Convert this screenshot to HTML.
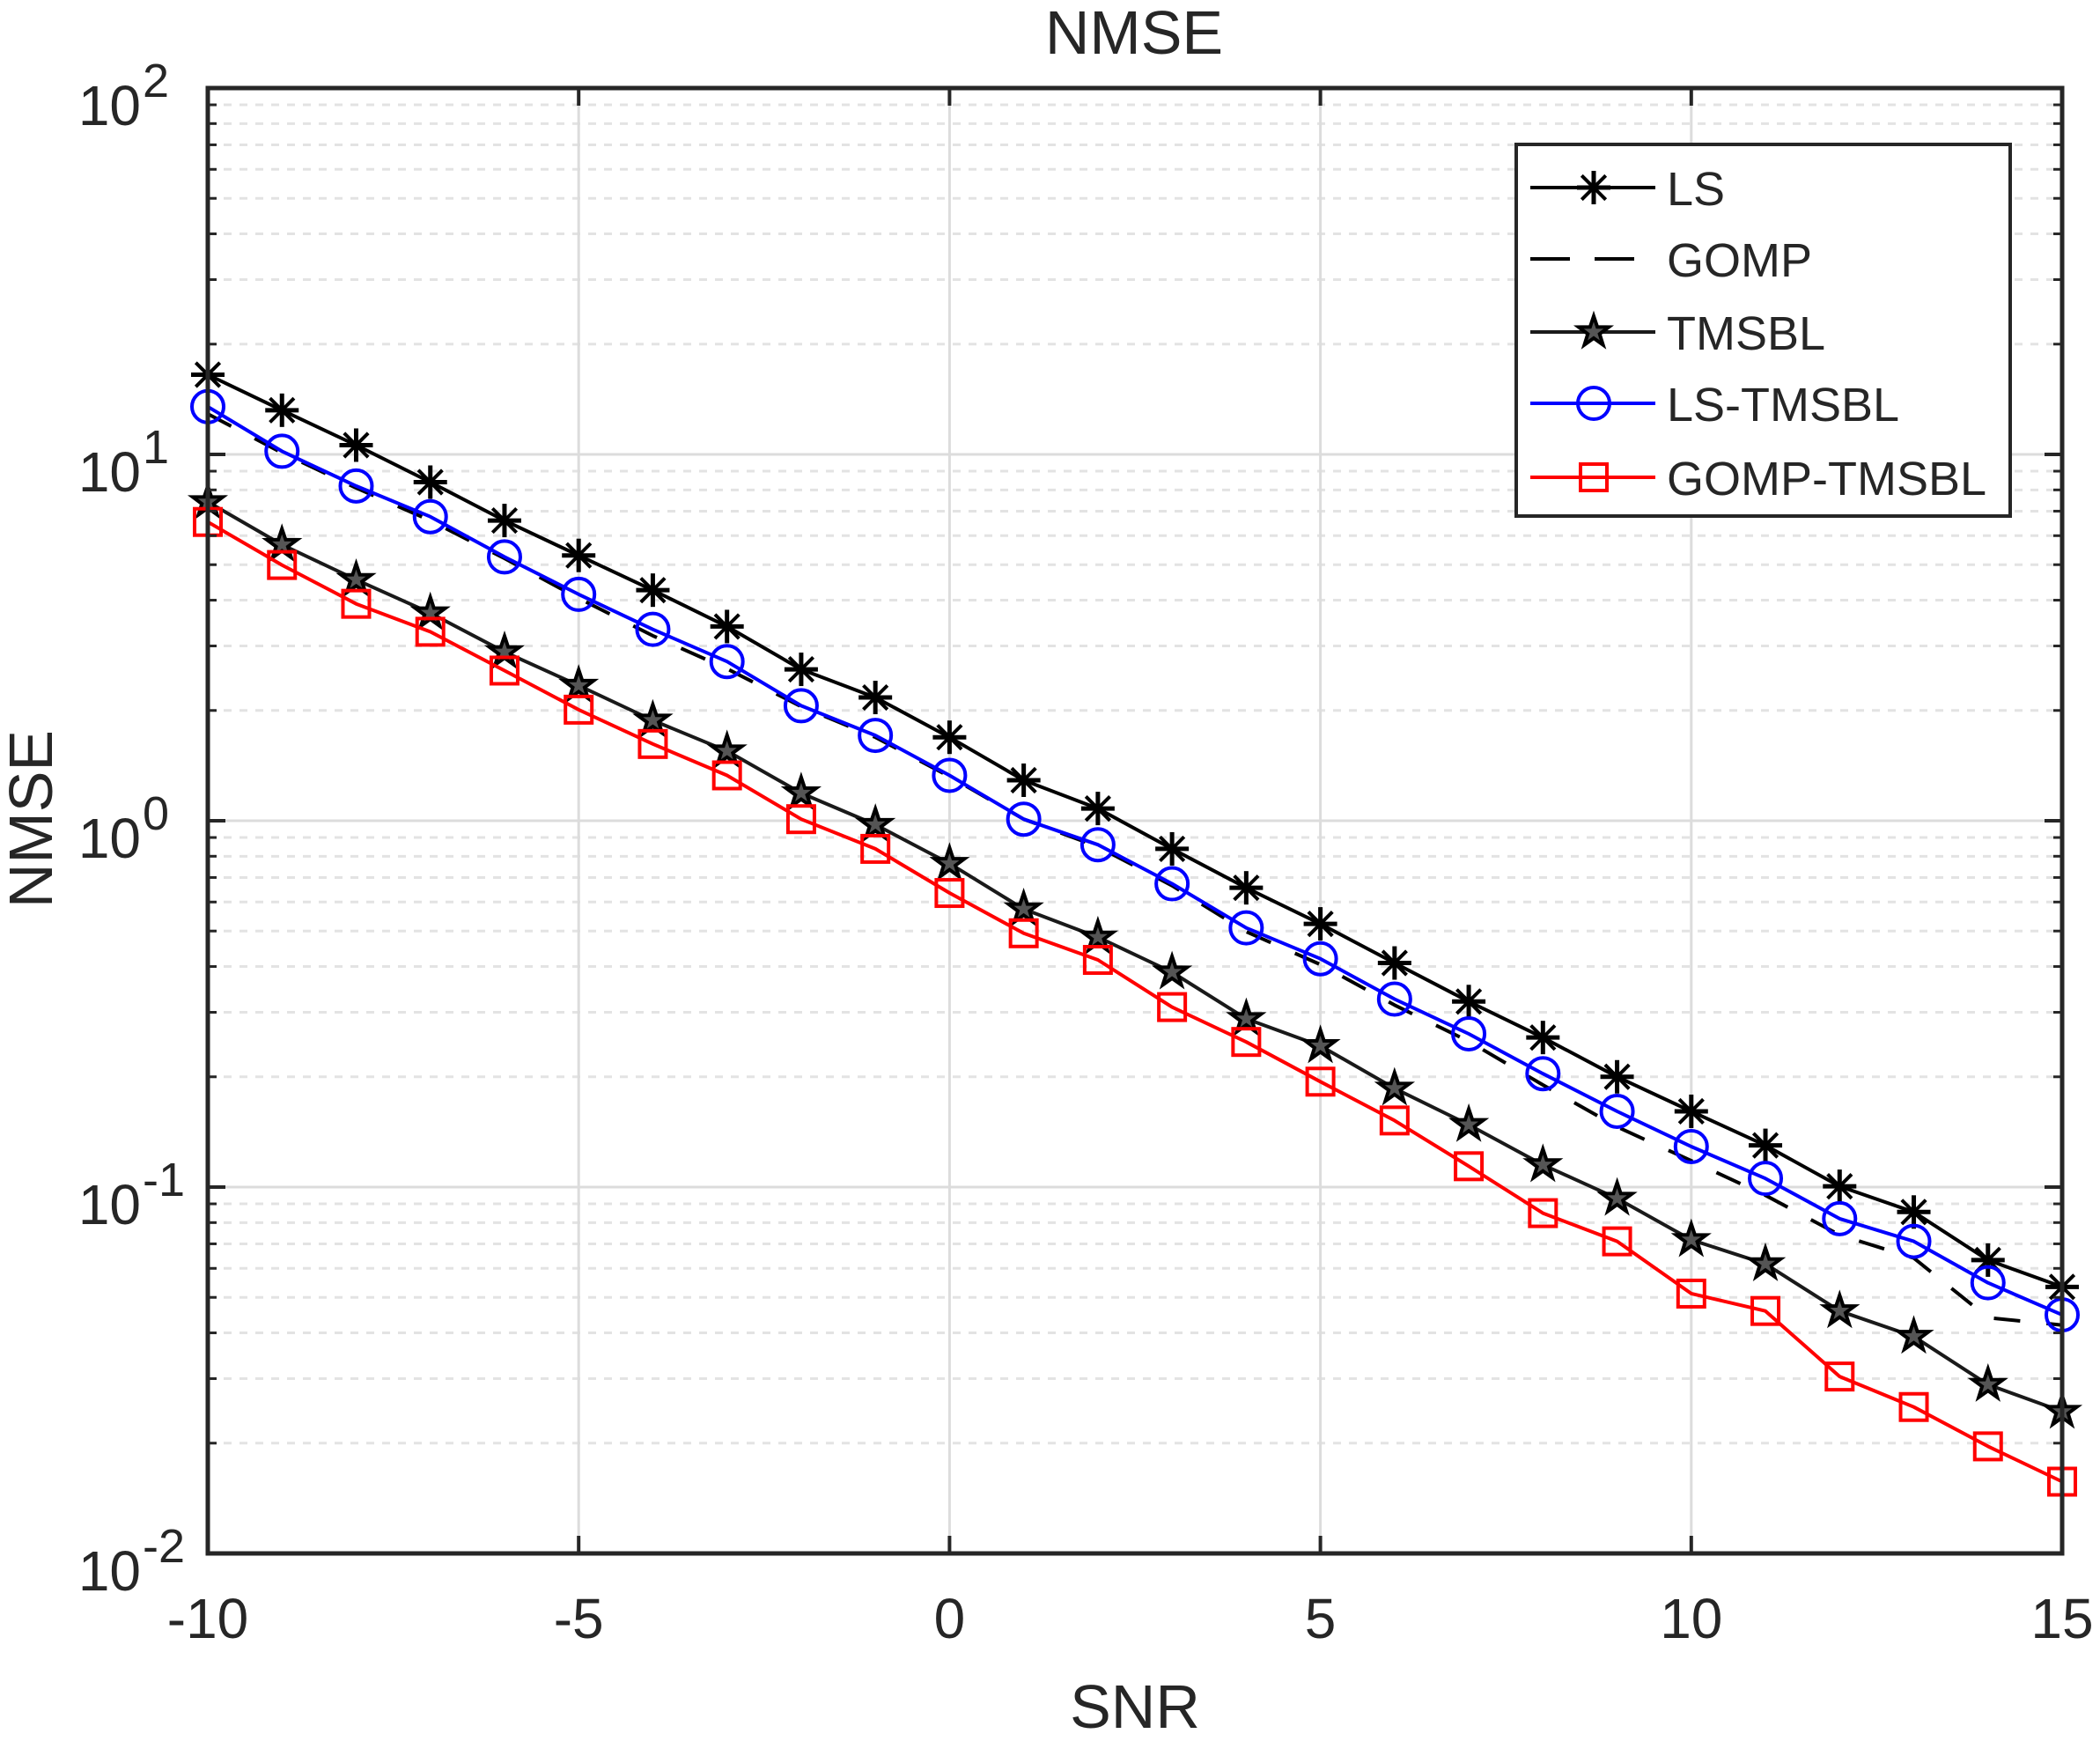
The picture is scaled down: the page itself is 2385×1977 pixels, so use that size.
<!DOCTYPE html>
<html><head><meta charset="utf-8"><style>
html,body{margin:0;padding:0;background:#fff;}
svg{display:block;}
text{font-family:"Liberation Sans",Arial,sans-serif;fill:#262626;}
</style></head><body>
<svg id="chart" width="2385" height="1977" viewBox="0 0 2385 1977" xmlns="http://www.w3.org/2000/svg">
<rect x="0" y="0" width="2385" height="1977" fill="#fff"/>
<g id="grid"></g>
<g id="series"></g>
<rect x="236" y="100" width="2106" height="1664" fill="none" stroke="#262626" stroke-width="5"/>
<g id="ticks"></g>
<text x="1288" y="61" font-size="70" text-anchor="middle">NMSE</text>
<text x="1289" y="1962" font-size="70" text-anchor="middle">SNR</text>
<text x="0" y="0" font-size="70" text-anchor="middle" transform="translate(59,930) rotate(-90)">NMSE</text>
<g id="legend"></g>
</svg>
<script>
const snr = [-10,-9,-8,-7,-6,-5,-4,-3,-2,-1,0,1,2,3,4,5,6,7,8,9,10,11,12,13,14,15];
const lsValues = [16.5,13.2,10.6,8.4,6.6,5.3,4.26,3.39,2.59,2.17,1.69,1.29,1.08,0.838,0.656,0.523,0.409,0.321,0.256,0.200,0.161,0.130,0.1005,0.0855,0.0632,0.0534];
const gompValues = [12.9,10.1,8.1,6.6,5.2,4.05,3.2,2.6,2.05,1.69,1.32,1.01,0.85,0.665,0.498,0.405,0.314,0.250,0.190,0.146,0.118,0.095,0.074,0.064,0.044,0.042];
const tmsblValues = [7.42,5.67,4.55,3.69,2.89,2.34,1.88,1.55,1.19,0.976,0.764,0.574,0.481,0.386,0.288,0.243,0.186,0.148,0.115,0.0931,0.0718,0.0617,0.0459,0.0391,0.0289,0.0244];
const lsTmsblValues = [13.5,10.2,8.2,6.76,5.25,4.15,3.33,2.72,2.06,1.71,1.33,1.01,0.86,0.673,0.510,0.420,0.326,0.262,0.204,0.161,0.129,0.1056,0.082,0.0711,0.0548,0.0448];
const gompTmsblValues = [6.54,4.99,3.91,3.28,2.57,2.01,1.62,1.33,1.01,0.838,0.635,0.493,0.417,0.310,0.249,0.194,0.152,0.114,0.0849,0.0711,0.0512,0.0459,0.0304,0.0251,0.0196,0.0157];
const xTicks = [-10,-5,0,5,10,15];
const yExponents = [2,1,0,-1,-2];
const legendLabels = ["LS","GOMP","TMSBL","LS-TMSBL","GOMP-TMSBL"];

const NS="http://www.w3.org/2000/svg";
const L=236,R=2342,T=100,B=1764;
const xMin=-10,xMax=15,yMinE=-2,yMaxE=2;
function xs(v){return L+(v-xMin)/(xMax-xMin)*(R-L);}
function ys(v){return B-(Math.log10(v)-yMinE)/(yMaxE-yMinE)*(B-T);}
function mk(tag,attrs,parent){const e=document.createElementNS(NS,tag);for(const k in attrs)e.setAttribute(k,attrs[k]);parent.appendChild(e);return e;}

const grid=document.getElementById('grid');
for(let e=yMinE;e<yMaxE;e++){for(let m=2;m<=9;m++){const y=ys(m*Math.pow(10,e));
 const g=mk('line',{x1:L,x2:R,y1:y,y2:y,stroke:'#e3e3e3','stroke-width':3,'stroke-dasharray':'9,9'},grid);
 
 
 const t1=mk('line',{x1:L,x2:L+10,y1:y,y2:y,stroke:'#262626','stroke-width':3},document.getElementById('ticks'));
 
 
 const t2=mk('line',{x1:R-10,x2:R,y1:y,y2:y,stroke:'#262626','stroke-width':3},document.getElementById('ticks'));
 
 
}}
yExponents.forEach(e=>{const y=ys(Math.pow(10,e));
 const g=mk('line',{x1:L,x2:R,y1:y,y2:y,stroke:'#dcdcdc','stroke-width':3},grid);
 
 
 const tk=document.getElementById('ticks');
 const t1=mk('line',{x1:L,x2:L+20,y1:y,y2:y,stroke:'#262626','stroke-width':4},tk);
 
 
 const t2=mk('line',{x1:R-20,x2:R,y1:y,y2:y,stroke:'#262626','stroke-width':4},tk);
 
 
 const txt=mk('text',{x:160,y:y+42,'font-size':64,'text-anchor':'end'},tk);
 txt.textContent='10';
 
 
 const sup=mk('text',{x:162,y:y+10,'font-size':54,'text-anchor':'start'},tk);
 sup.textContent=String(e);
 
 
});
xTicks.forEach(v=>{const x=xs(v);
 const g=mk('line',{x1:x,x2:x,y1:T,y2:B,stroke:'#dcdcdc','stroke-width':3},grid);
 
 
 const tk=document.getElementById('ticks');
 const t1=mk('line',{x1:x,x2:x,y1:B-20,y2:B,stroke:'#262626','stroke-width':4},tk);
 
 
 const t2=mk('line',{x1:x,x2:x,y1:T,y2:T+20,stroke:'#262626','stroke-width':4},tk);
 
 
 const txt=mk('text',{x:x,y:1860,'font-size':64,'text-anchor':'middle'},tk);
 txt.textContent=String(v);
 
 
});

function marker(type,cx,cy,color,parent){
 const g=mk('g',{},parent);
 if(type==='asterisk'){
  const s=19;
  mk('line',{x1:cx-s,x2:cx+s,y1:cy,y2:cy,stroke:color,'stroke-width':5},g);
  mk('line',{x1:cx,x2:cx,y1:cy-s,y2:cy+s,stroke:color,'stroke-width':5},g);
  const d=s*0.72;
  mk('line',{x1:cx-d,x2:cx+d,y1:cy-d,y2:cy+d,stroke:color,'stroke-width':4},g);
  mk('line',{x1:cx-d,x2:cx+d,y1:cy+d,y2:cy-d,stroke:color,'stroke-width':4},g);
 } else if(type==='circle'){
  mk('circle',{cx:cx,cy:cy,r:18,fill:'none',stroke:color,'stroke-width':4},g);
 } else if(type==='square'){
  mk('rect',{x:cx-15,y:cy-15,width:30,height:30,fill:'none',stroke:color,'stroke-width':4},g);
 } else if(type==='star'){
  const pts=[];for(let i=0;i<10;i++){const a=-Math.PI/2+i*Math.PI/5;const r=i%2?7:18;pts.push((cx+r*Math.cos(a)).toFixed(1)+','+(cy+r*Math.sin(a)).toFixed(1));}
  mk('polygon',{points:pts.join(' '),fill:'#555',stroke:color,'stroke-width':4,'stroke-linejoin':'miter'},g);
 }
 return g;
}

const seriesDefs=[
 {vals:lsValues,color:'#000',dash:null,marker:'asterisk',name:'ls'},
 {vals:gompValues,color:'#000',dash:'30,30',marker:null,name:'gomp'},
 {vals:tmsblValues,color:'#1a1a1a',dash:null,marker:'star',name:'tmsbl'},
 {vals:lsTmsblValues,color:'#0000ff',dash:null,marker:'circle',name:'ls-tmsbl'},
 {vals:gompTmsblValues,color:'#ff0000',dash:null,marker:'square',name:'gomp-tmsbl'}
];
const sl=document.getElementById('series');
seriesDefs.forEach(s=>{
 const g=mk('g',{},sl);
 
 
 const pts=snr.map((x,i)=>xs(x).toFixed(1)+','+ys(s.vals[i]).toFixed(1)).join(' ');
 const pl=mk('polyline',{points:pts,fill:'none',stroke:s.color,'stroke-width':4,'stroke-linejoin':'round'},g);
 if(s.dash)pl.setAttribute('stroke-dasharray',s.dash);
 
 
 if(s.marker){snr.forEach((x,i)=>{
  const m=marker(s.marker,xs(x),ys(s.vals[i]),s.color==='#1a1a1a'?'#000':s.color,g);
  
  
 });}
});

const lg=document.getElementById('legend');
const box=mk('rect',{x:1722,y:164,width:561,height:422,fill:'#fff',stroke:'#262626','stroke-width':4},lg);


const rowY=[213,294,377,458,542];
seriesDefs.forEach((s,i)=>{
 const g=mk('g',{},lg);
 
 
 const y=rowY[i];
 const ln=mk('line',{x1:1738,x2:1880,y1:y,y2:y,stroke:s.color,'stroke-width':4},g);
 if(s.dash){ln.setAttribute('x2','1864');ln.setAttribute('stroke-dasharray','45,28');}
 if(s.marker)marker(s.marker,1810,y,s.color==='#1a1a1a'?'#000':s.color,g);
 const t=mk('text',{x:1893,y:y+20,'font-size':54,fill:'#000'},g);
 t.textContent=legendLabels[i];
 
 
});
</script>
</body></html>
